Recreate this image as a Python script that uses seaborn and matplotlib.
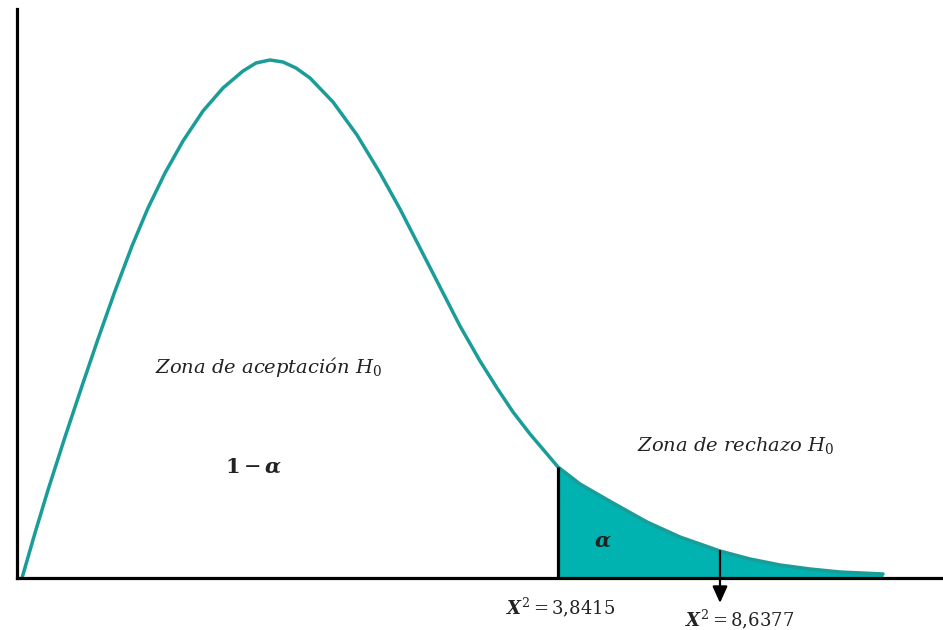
import numpy as np
import pandas as pd
import matplotlib
matplotlib.use("Agg")
import matplotlib.pyplot as plt
import seaborn as sns

# ─────────────────────────────────────────
# Curve (schematic chi-square density)
# x / y in drawing units (1 unit ~ 1 px of the original)
# ─────────────────────────────────────────
curve_x = [5, 18, 31, 48, 65, 81, 98, 115, 131, 148, 166, 186, 206, 226,
           239, 253, 266, 279, 293, 316, 340, 363, 383, 403, 423, 443, 463,
           480, 496, 513, 530, 541, 563, 596, 630, 663, 703, 733, 763, 793,
           823, 866]
curve_y = [0, 45, 88, 141, 192, 239, 287, 332, 370, 405, 437, 467, 490, 507,
           515, 518, 516, 510, 500, 476, 443, 405, 369, 330, 291, 252, 217,
           190, 166, 144, 124, 111, 94, 75, 56, 41, 27, 19, 13, 9,
           6, 4]

crit_x = 541       # X^2 = 3,8415  (start of rejection zone)
stat_x = 703       # X^2 = 8,6377  (observed statistic)
crit_label = r"$\mathbfit{X}^{2}=3{,}8415$"
stat_label = r"$\mathbfit{X}^{2}=8{,}6377$"

df = pd.DataFrame({"x": curve_x, "y": curve_y})

sns.set_style("white")
plt.rcParams["font.family"] = ["DejaVu Serif"]
plt.rcParams["mathtext.fontset"] = "dejavuserif"

line_col = "#1a9c98"
fill_col = "#00b2b0"
text_col = "#222222"

fig = plt.figure(figsize=(9.43, 6.30), dpi=100)
ax = fig.add_axes([17 / 943, 52 / 630, 926 / 943, 569 / 630])

# rejection area
tail = df[df["x"] >= crit_x]
ax.fill_between(tail["x"], 0, tail["y"], color=fill_col, lw=0, zorder=1)

sns.lineplot(data=df, x="x", y="y", ax=ax, color=line_col, lw=2.5,
             sort=False, zorder=2, solid_joinstyle="round",
             solid_capstyle="round")

# critical value line
crit_h = np.interp(crit_x, curve_x, curve_y)
ax.plot([crit_x, crit_x], [0, crit_h], color="black", lw=2.3, zorder=3,
        solid_capstyle="butt")

# arrow for the observed statistic
stat_h = np.interp(stat_x, curve_x, curve_y)
ax.annotate("", xy=(stat_x, -25), xytext=(stat_x, stat_h),
            arrowprops=dict(arrowstyle="-|>,head_length=1.0,head_width=0.45",
                            color="black", lw=1.6, shrinkA=0, shrinkB=0),
            annotation_clip=False, zorder=4)

# texts
ax.text(251, 211, r"Zona de aceptación $H_0$", fontsize=14, style="italic",
        ha="center", va="center", color=text_col)
ax.text(237, 111, r"$\mathbf{1}-\mathbfit{\alpha}$", fontsize=15,
        ha="center", va="center", color=text_col)
ax.text(719, 133, r"Zona de rechazo $H_0$", fontsize=14, style="italic",
        ha="center", va="center", color=text_col)
ax.text(586, 37, r"$\mathbfit{\alpha}$", fontsize=15,
        ha="center", va="center", color=text_col)
ax.text(crit_x + 3, -29, crit_label, fontsize=13, ha="center", va="center",
        color=text_col, clip_on=False)
ax.text(stat_x + 20, -41, stat_label, fontsize=13, ha="center", va="center",
        color=text_col, clip_on=False)

ax.set_xlim(0, 926)
ax.set_ylim(0, 569)
ax.set_xticks([])
ax.set_yticks([])
ax.set_xlabel("")
ax.set_ylabel("")
sns.despine(ax=ax)
for side in ["left", "bottom"]:
    ax.spines[side].set_color("black")
    ax.spines[side].set_linewidth(2.3)

fig.savefig("out.png", dpi=100)
